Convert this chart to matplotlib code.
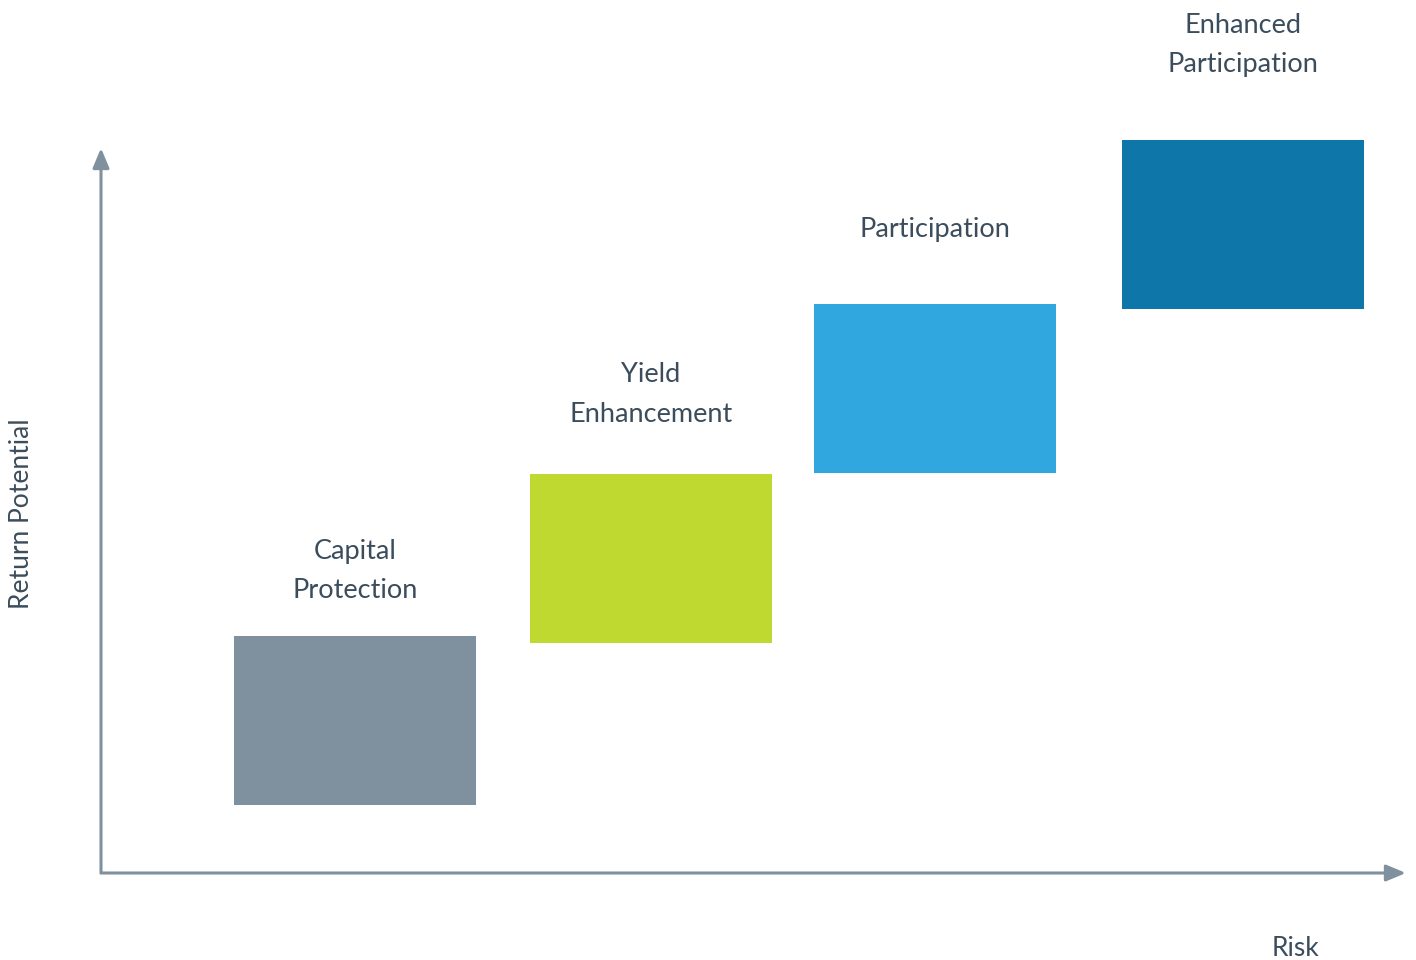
import matplotlib.pyplot as plt
from matplotlib.patches import Rectangle

# data (risk / return units, origin at axes corner)
categories = ["Capital\nProtection", "Yield\nEnhancement",
              "Participation", "Enhanced\nParticipation"]
risk_start = [13.3, 42.9, 71.3, 102.1]
return_low = [6.8, 23.0, 40.0, 56.4]
box_width = 24.2
box_height = 16.9
colors = ["#7f919e", "#bfd930", "#30a7de", "#0f76aa"]

# layout: distance from box top to centre of each label block
label_gap = [6.5, 7.95, 7.4, 9.5]

axis_color = "#7f919e"
text_color = "#3b4d5c"

plt.rcParams["font.family"] = ["Lato", "DejaVu Sans"]

fig = plt.figure(figsize=(14.16, 9.6), dpi=100)
ax = fig.add_axes([0, 0, 1, 1])
ax.set_xlim(-10.1, 131.5)
ax.set_ylim(-8.7, 87.3)
ax.axis("off")

# axes arrows
arrow = dict(arrowstyle="-|>,head_length=1.2,head_width=0.5",
             color=axis_color, lw=2.2, shrinkA=0, shrinkB=0,
             capstyle="butt")
ax.annotate("", xy=(130.5, 0), xytext=(-0.1, 0), arrowprops=arrow)
ax.annotate("", xy=(0, 72.5), xytext=(0, -0.1), arrowprops=arrow)

for name, x0, y0, c, gap in zip(categories, risk_start, return_low,
                                colors, label_gap):
    ax.add_patch(Rectangle((x0, y0), box_width, box_height,
                           facecolor=c, edgecolor="none"))
    ax.text(x0 + box_width / 2, y0 + box_height + gap, name,
            ha="center", va="center", fontsize=19.5, color=text_color,
            linespacing=1.7)

ax.text(-7.9, 35.9, "Return Potential", rotation=90, ha="center",
        va="center", fontsize=19, color=text_color)
ax.text(119.5, -7.5, "Risk", ha="center", va="center", fontsize=19,
        color=text_color)

fig.savefig("out.png", dpi=100)
